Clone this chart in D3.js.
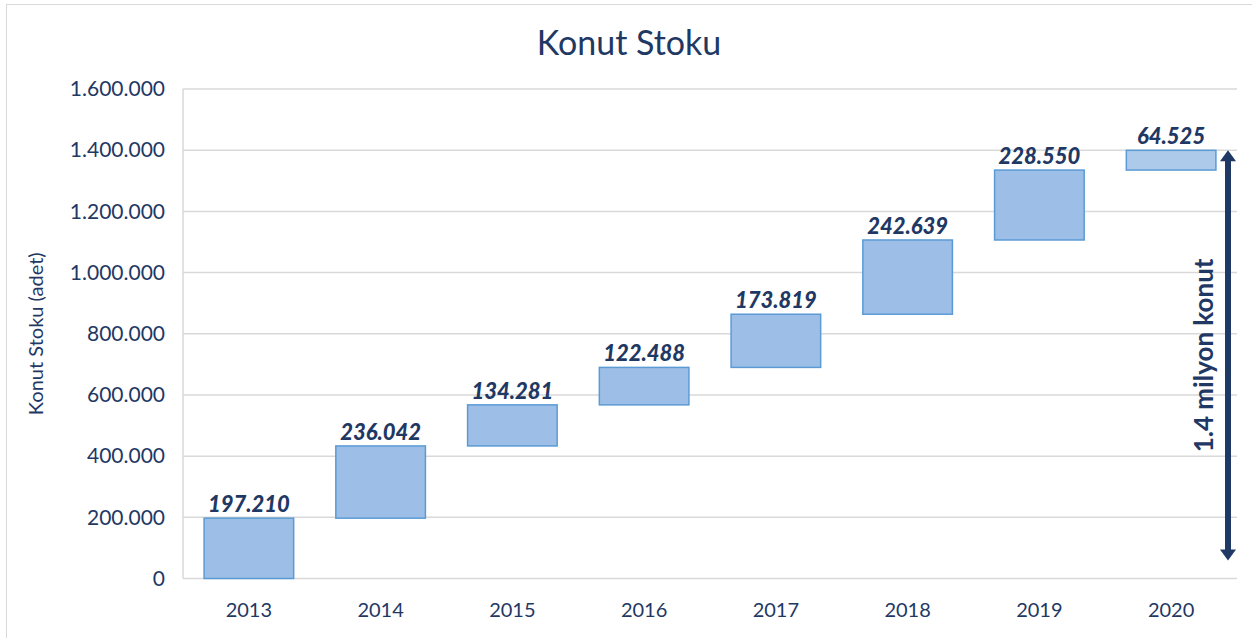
<!DOCTYPE html>
<html>
<head>
<meta charset="utf-8">
<script src="https://cdn.jsdelivr.net/npm/d3@7"></script>
<style>
  body { margin: 0; background: #fff; }
  text { font-family: Lato, "Open Sans", sans-serif; }
</style>
</head>
<body>
<div id="chart"></div>
<script>
const years = ["2013", "2014", "2015", "2016", "2017", "2018", "2019", "2020"];
const increments = [197210, 236042, 134281, 122488, 173819, 242639, 228550, 64525];
const yTicks = [0, 200000, 400000, 600000, 800000, 1000000, 1200000, 1400000, 1600000];
const totalLabel = "1.4 milyon konut";

const W = 1252, H = 638;
const margin = { left: 183, right: 15, top: 89, bottom: 59 };
const navy = "#1f3864";

// running totals for the waterfall
let running = 0;
const steps = increments.map((v, i) => {
  const start = running;
  running += v;
  return { year: years[i], value: v, start: start, end: running };
});

const svg = d3.select("#chart").append("svg")
  .attr("width", W)
  .attr("height", H);

svg.append("rect")
  .attr("x", 6.5).attr("y", 4.5)
  .attr("width", W).attr("height", H)
  .attr("fill", "none")
  .attr("stroke", "#d9d9d9")
  .attr("stroke-width", 1);

const x = d3.scaleBand()
  .domain(years)
  .range([margin.left, W - margin.right])
  .paddingInner(0.32)
  .paddingOuter(0.16);

const y = d3.scaleLinear()
  .domain([0, 1600000])
  .range([H - margin.bottom - 0.5, margin.top]);

const fmt = v => d3.format(",")(v).replace(/,/g, ".");

// gridlines
svg.append("g")
  .selectAll("line")
  .data(yTicks)
  .join("line")
  .attr("x1", margin.left)
  .attr("x2", W - margin.right)
  .attr("y1", d => y(d))
  .attr("y2", d => y(d))
  .attr("stroke", "#d9d9d9")
  .attr("stroke-width", 1.5);

svg.append("line")
  .attr("x1", margin.left).attr("x2", margin.left)
  .attr("y1", y(1600000)).attr("y2", y(0))
  .attr("stroke", "#d9d9d9")
  .attr("stroke-width", 1.5);

// y axis
const yAxis = d3.axisLeft(y)
  .tickValues(yTicks)
  .tickSize(0)
  .tickPadding(18)
  .tickFormat(fmt);

const gy = svg.append("g")
  .attr("transform", `translate(${margin.left},0)`)
  .call(yAxis);
gy.select(".domain").remove();
gy.selectAll("text")
  .attr("fill", navy)
  .style("font-size", "21px");

// x axis
const xAxis = d3.axisBottom(x).tickSize(0).tickPadding(24);
const gx = svg.append("g")
  .attr("transform", `translate(0,${y(0)})`)
  .call(xAxis);
gx.select(".domain").remove();
gx.selectAll("text")
  .attr("fill", navy)
  .style("font-size", "20px");

// bars
svg.append("g")
  .selectAll("rect")
  .data(steps)
  .join("rect")
  .attr("x", d => x(d.year))
  .attr("y", d => y(d.end))
  .attr("width", x.bandwidth())
  .attr("height", d => y(d.start) - y(d.end))
  .attr("fill", (d, i) => i === steps.length - 1 ? "#aecaeb" : "#9dbee6")
  .attr("stroke", "#5b9bd5")
  .attr("stroke-width", 1.5);

// value labels
svg.append("g")
  .selectAll("text")
  .data(steps)
  .join("text")
  .attr("x", d => x(d.year) + x.bandwidth() / 2)
  .attr("y", d => y(d.end) - 6)
  .attr("text-anchor", "middle")
  .attr("fill", navy)
  .style("font-size", "22px")
  .style("font-weight", "900")
  .style("font-style", "italic")
  .text(d => fmt(d.value));

// title
svg.append("text")
  .attr("x", 629)
  .attr("y", 55)
  .attr("text-anchor", "middle")
  .attr("fill", navy)
  .style("font-size", "34px")
  .text("Konut Stoku");

// y axis title
svg.append("text")
  .attr("transform", `translate(43,${(y(0) + y(1600000)) / 2}) rotate(-90)`)
  .attr("text-anchor", "middle")
  .attr("fill", navy)
  .style("font-size", "20px")
  .text("Konut Stoku (adet)");

// total arrow
const total = steps[steps.length - 1].end;
const ax = 1228;
const yTop = y(total), yBot = y(0) - 18;
svg.append("line")
  .attr("x1", ax).attr("x2", ax)
  .attr("y1", yTop + 8).attr("y2", yBot - 8)
  .attr("stroke", "#203864")
  .attr("stroke-width", 6);
svg.append("path")
  .attr("d", `M${ax - 8},${yTop + 11} L${ax},${yTop} L${ax + 8},${yTop + 11} Z`)
  .attr("fill", "#203864");
svg.append("path")
  .attr("d", `M${ax - 8},${yBot - 11} L${ax},${yBot} L${ax + 8},${yBot - 11} Z`)
  .attr("fill", "#203864");

svg.append("text")
  .attr("transform", `translate(1213,${(yTop + yBot) / 2}) rotate(-90)`)
  .attr("text-anchor", "middle")
  .attr("fill", navy)
  .style("font-size", "26px")
  .style("font-weight", "bold")
  .text(totalLabel);
</script>
</body>
</html>
